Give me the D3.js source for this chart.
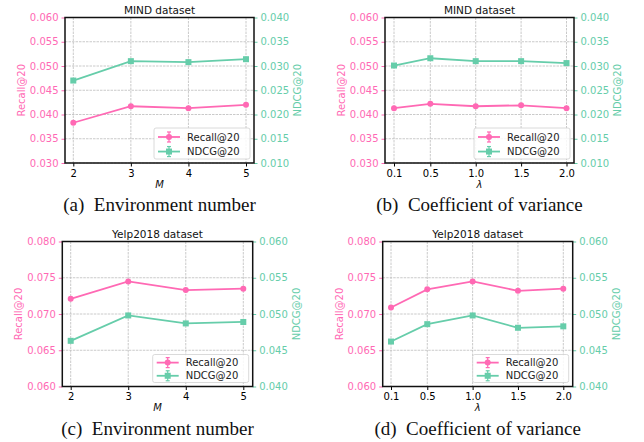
<!DOCTYPE html>
<html><head><meta charset="utf-8">
<script src="https://cdn.jsdelivr.net/npm/d3@7"></script>
<style>body{margin:0;background:#fff}svg{display:block}</style>
</head><body>
<svg id="c" width="644" height="442"></svg>
<script>
const PINK = "#ff69b4", GREEN = "#66cdaa";
const envM = [2, 3, 4, 5];
const lambdas = [0.1, 0.5, 1.0, 1.5, 2.0];
const lambdaTicks = ["0.1", "0.5", "1.0", "1.5", "2.0"];
const mindEnvRecall = [0.0383, 0.0417, 0.0413, 0.0420];
const mindEnvNdcg = [0.0270, 0.0310, 0.0308, 0.0314];
const mindLamRecall = [0.0413, 0.0422, 0.0417, 0.0419, 0.0413];
const mindLamNdcg = [0.0301, 0.0316, 0.0310, 0.0310, 0.0306];
const yelpEnvRecall = [0.0721, 0.0745, 0.0733, 0.0735];
const yelpEnvNdcg = [0.0463, 0.0498, 0.0487, 0.0489];
const yelpLamRecall = [0.0709, 0.0734, 0.0745, 0.0732, 0.0735];
const yelpLamNdcg = [0.0462, 0.0486, 0.0498, 0.0481, 0.0483];
const mindRecallTicks = [0.030, 0.035, 0.040, 0.045, 0.050, 0.055, 0.060];
const mindNdcgTicks = [0.010, 0.015, 0.020, 0.025, 0.030, 0.035, 0.040];
const yelpRecallTicks = [0.060, 0.065, 0.070, 0.075, 0.080];
const yelpNdcgTicks = [0.040, 0.045, 0.050, 0.055, 0.060];

const svg = d3.select("#c");
const FONT = "DejaVu Sans, sans-serif";

function panel(o) {
  const g = svg.append("g");
  const x = d3.scaleLinear().domain([o.xs[0], o.xs[o.xs.length-1]]).range([o.x0, o.x1]);
  const yL = d3.scaleLinear().domain([o.lt[0], o.lt[o.lt.length-1]]).range([o.bottom, o.top]);
  const yR = d3.scaleLinear().domain([o.rt[0], o.rt[o.rt.length-1]]).range([o.bottom, o.top]);
  const grid = g.append("g").attr("stroke", "#bdbdbd").attr("stroke-width", 0.8).attr("stroke-dasharray", "2.5,1");
  o.xs.forEach(v => grid.append("line").attr("x1", x(v)).attr("x2", x(v)).attr("y1", o.top).attr("y2", o.bottom));
  o.lt.forEach(v => grid.append("line").attr("x1", o.left).attr("x2", o.right).attr("y1", yL(v)).attr("y2", yL(v)));
  const fmt = d3.format(".3f");
  const ax = g.append("g").attr("transform", `translate(0,${o.bottom})`)
    .call(d3.axisBottom(x).tickValues(o.xs).tickFormat((d,i)=>o.xl[i]).tickSize(3.5).tickPadding(3));
  ax.select(".domain").remove();
  ax.selectAll("text").attr("fill", "#000").attr("font-size", 10).attr("font-family", FONT);
  const al = g.append("g").attr("transform", `translate(${o.left},0)`)
    .call(d3.axisLeft(yL).tickValues(o.lt).tickFormat(fmt).tickSize(3.5).tickPadding(3));
  al.select(".domain").remove();
  al.selectAll("line").attr("stroke", PINK);
  al.selectAll("text").attr("fill", PINK).attr("font-size", 10).attr("font-family", FONT);
  const ar = g.append("g").attr("transform", `translate(${o.right},0)`)
    .call(d3.axisRight(yR).tickValues(o.rt).tickFormat(fmt).tickSize(3.5).tickPadding(3));
  ar.select(".domain").remove();
  ar.selectAll("line").attr("stroke", GREEN);
  ar.selectAll("text").attr("fill", GREEN).attr("font-size", 10).attr("font-family", FONT);
  const lineR = d3.line().x((d,i)=>x(o.xs[i])).y(d=>yL(d));
  const lineN = d3.line().x((d,i)=>x(o.xs[i])).y(d=>yR(d));
  g.append("path").attr("d", lineN(o.nd)).attr("fill","none").attr("stroke",GREEN).attr("stroke-width",1.8);
  g.selectAll(".sq").data(o.nd).enter().append("rect")
    .attr("x",(d,i)=>x(o.xs[i])-3).attr("y",d=>yR(d)-3).attr("width",6).attr("height",6).attr("fill",GREEN);
  g.append("path").attr("d", lineR(o.rc)).attr("fill","none").attr("stroke",PINK).attr("stroke-width",1.8);
  g.selectAll(".ci").data(o.rc).enter().append("circle")
    .attr("cx",(d,i)=>x(o.xs[i])).attr("cy",d=>yL(d)).attr("r",3).attr("fill",PINK);
  g.append("rect").attr("x",o.left).attr("y",o.top).attr("width",o.right-o.left).attr("height",o.bottom-o.top)
    .attr("fill","none").attr("stroke","#111").attr("stroke-width",1.5);
  const lw = 96, lh = o.lh, lx = o.right - 4 - lw, ly = o.bottom - 4 - lh;
  const lg = g.append("g");
  lg.append("rect").attr("x",lx).attr("y",ly).attr("width",lw).attr("height",lh).attr("rx",2)
    .attr("fill","rgba(255,255,255,0.85)").attr("stroke","#d0d0d0").attr("stroke-width",0.8);
  [["Recall@20", PINK, "c"], ["NDCG@20", GREEN, "s"]].forEach((e, i) => {
    const cy = ly + lh*0.29 + i*lh*0.47;
    lg.append("line").attr("x1",lx+4).attr("x2",lx+26).attr("y1",cy).attr("y2",cy).attr("stroke",e[1]).attr("stroke-width",1.8);
    lg.append("line").attr("x1",lx+15).attr("x2",lx+15).attr("y1",cy-5).attr("y2",cy+5).attr("stroke",e[1]).attr("stroke-width",1.2);
    lg.append("line").attr("x1",lx+13).attr("x2",lx+17).attr("y1",cy-5).attr("y2",cy-5).attr("stroke",e[1]).attr("stroke-width",1.2);
    lg.append("line").attr("x1",lx+13).attr("x2",lx+17).attr("y1",cy+5).attr("y2",cy+5).attr("stroke",e[1]).attr("stroke-width",1.2);
    if (e[2] === "c") lg.append("circle").attr("cx",lx+15).attr("cy",cy).attr("r",3).attr("fill",e[1]);
    else lg.append("rect").attr("x",lx+12).attr("y",cy-3).attr("width",6).attr("height",6).attr("fill",e[1]);
    lg.append("text").attr("x",lx+33).attr("y",cy+3.6).text(e[0]).attr("font-size",10).attr("font-family",FONT).attr("fill","#222");
  });
  const cx = (o.left + o.right)/2;
  g.append("text").attr("x",cx).attr("y",o.top-4).attr("text-anchor","middle").attr("font-size",10.5).attr("font-family",FONT).attr("fill","#111").text(o.title);
  g.append("text").attr("x",cx).attr("y",o.bottom+24.5).attr("text-anchor","middle").attr("font-size",10).attr("font-style","italic").attr("font-family",FONT).attr("fill","#111").text(o.xlab);
  const my = (o.top + o.bottom)/2;
  g.append("text").attr("transform",`translate(${o.left-40},${my}) rotate(-90)`).attr("text-anchor","middle").attr("font-size",10).attr("font-family",FONT).attr("fill",PINK).text("Recall@20");
  g.append("text").attr("transform",`translate(${o.right+47},${my}) rotate(-90)`).attr("text-anchor","middle").attr("font-size",10).attr("font-family",FONT).attr("fill",GREEN).text("NDCG@20");
  g.append("text").attr("x",cx).attr("y",o.capY).attr("text-anchor","middle").attr("font-size",19).attr("font-family","Liberation Serif, serif").attr("fill","#111").text(o.caption);
}

panel({xs: envM, xl: envM.map(String), rc: mindEnvRecall, nd: mindEnvNdcg, lt: mindRecallTicks, rt: mindNdcgTicks,
  left: 65, right: 254, top: 17.5, bottom: 163, x0: 73.3, x1: 246, lh: 31,
  title: "MIND dataset", xlab: "M", caption: "(a)\u00a0\u00a0Environment number", capY: 211});
panel({xs: lambdas, xl: lambdaTicks, rc: mindLamRecall, nd: mindLamNdcg, lt: mindRecallTicks, rt: mindNdcgTicks,
  left: 385, right: 574, top: 17.5, bottom: 163, x0: 394, x1: 566.5, lh: 31,
  title: "MIND dataset", xlab: "λ", caption: "(b)\u00a0\u00a0Coefficient of variance", capY: 211});
panel({xs: envM, xl: envM.map(String), rc: yelpEnvRecall, nd: yelpEnvNdcg, lt: yelpRecallTicks, rt: yelpNdcgTicks,
  left: 62.3, right: 252.7, top: 241.5, bottom: 386.5, x0: 70.7, x1: 243.3, lh: 28,
  title: "Yelp2018 dataset", xlab: "M", caption: "(c)\u00a0\u00a0Environment number", capY: 435});
panel({xs: lambdas, xl: lambdaTicks, rc: yelpLamRecall, nd: yelpLamNdcg, lt: yelpRecallTicks, rt: yelpNdcgTicks,
  left: 382.7, right: 572.7, top: 241.5, bottom: 386.5, x0: 391, x1: 563.3, lh: 28,
  title: "Yelp2018 dataset", xlab: "λ", caption: "(d)\u00a0\u00a0Coefficient of variance", capY: 435});
</script>
</body></html>
